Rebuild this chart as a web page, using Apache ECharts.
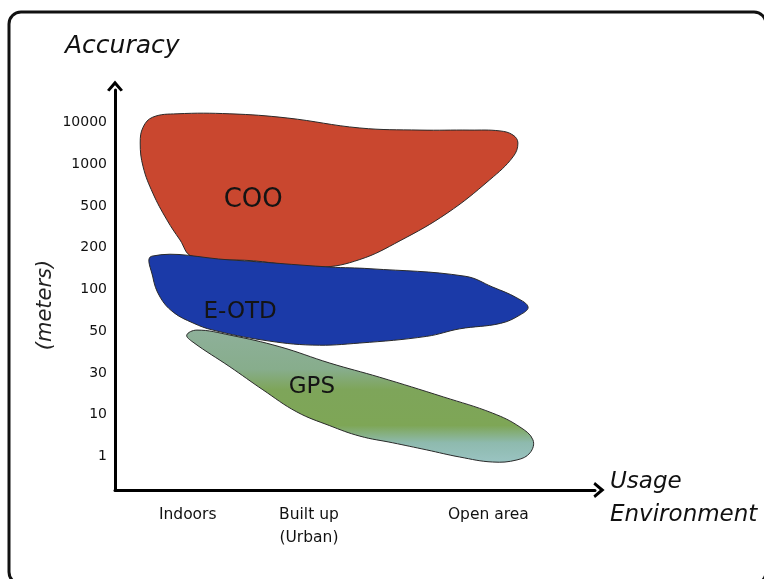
<!DOCTYPE html>
<html>
<head>
<meta charset="utf-8">
<script src="https://cdn.jsdelivr.net/npm/echarts@6/dist/echarts.min.js"></script>
<style>
html,body{margin:0;padding:0;background:#fff;}
#chart{width:764px;height:579px;}
</style>
</head>
<body>
<div id="chart"></div>
<script>
// Accuracy levels (ordinal y scale): index 0..8
const yTickLabels = ['1', '10', '30', '50', '100', '200', '500', '1000', '10000'];
const yTickIndex = [0, 1, 2, 3, 4, 5, 6, 7, 8];
// Usage environments along x
const envLabels = ['Indoors', 'Built up\n(Urban)', 'Open area'];
const envValues = [15, 40, 77];

// Region outlines: [environment, accuracy level]
const cooOutline = [
  [7.8, 8.13], [12.8, 8.21], [23.7, 8.21], [35.5, 8.11], [50.5, 7.87], [62.9, 7.82],
  [73.2, 7.82], [79.4, 7.80], [82.1, 7.70], [83.1, 7.51], [82.1, 7.18], [77.3, 6.63],
  [68.5, 5.83], [58.8, 5.17], [50.5, 4.72], [42.3, 4.54], [28.5, 4.69],
  [15.9, 4.80], [13.4, 5.19], [10.7, 5.67], [7.8, 6.31], [5.8, 6.94], [5.2, 7.51],
  [5.8, 7.89]
];
const eotdOutline = [
  [7.6, 4.80], [23.7, 4.71], [44.3, 4.54], [52.6, 4.50], [72.2, 4.32], [77.9, 4.06],
  [82.9, 3.80], [85.2, 3.58], [83.5, 3.39], [79.5, 3.19], [71.1, 3.06], [64.3, 2.88],
  [50.5, 2.72], [40.8, 2.67], [30.5, 2.79], [20.2, 3.03], [16.1, 3.20], [12.0, 3.46],
  [9.3, 3.82], [7.8, 4.30]
];
const gpsOutline = [
  [14.8, 2.91], [16.9, 3.03], [23.7, 2.91], [34.0, 2.63], [44.3, 2.24], [54.6, 1.90],
  [67.7, 1.43], [77.9, 1.04], [83.5, 0.71], [86.2, 0.40], [85.6, 0.09],
  [82.9, -0.08], [77.9, -0.13], [71.1, -0.01], [64.3, 0.16], [57.3, 0.33], [50.5, 0.49],
  [44.3, 0.74], [37.5, 1.07], [30.5, 1.60], [23.7, 2.15], [16.1, 2.74]
];
const regionNames = ['COO', 'E-OTD', 'GPS'];
const regionLabelAt = [[28.5, 6.15], [25.8, 3.46], [40.6, 1.67]];

const chart = echarts.init(document.getElementById('chart'), null, {renderer: 'canvas'});

function blobSeries(name, outline, labelAt, fill, fontSize, z) {
  return {
    type: 'custom',
    name: name,
    z: z,
    data: [[labelAt[0], labelAt[1]]],
    renderItem: function (params, api) {
      const pts = outline.map(p => api.coord(p));
      const lp = api.coord([api.value(0), api.value(1)]);
      return {
        type: 'group',
        children: [
          {
            type: 'polygon',
            shape: {points: pts, smooth: 0.4},
            style: {fill: fill, stroke: '#2a2a2a', lineWidth: 1}
          },
          {
            type: 'text',
            x: lp[0], y: lp[1],
            style: {
              text: name, fill: '#141414', fontSize: fontSize,
              fontFamily: 'DejaVu Sans', align: 'center', verticalAlign: 'middle'
            }
          }
        ]
      };
    }
  };
}

const arrowPath = 'path://M0,12 L10,0 L20,12 L17,14 L10,6 L3,14 Z';

const option = {
  backgroundColor: '#fff',
  animation: false,
  grid: {left: 115, right: 169, top: 90, bottom: 89},
  xAxis: {
    type: 'value', min: 0, max: 99,
    splitLine: {show: false},
    axisTick: {show: false},
    axisLine: {
      show: true, onZero: false,
      lineStyle: {color: '#000', width: 3},
      symbol: ['none', arrowPath], symbolSize: [16, 12], symbolOffset: [0, 4]
    },
    axisLabel: {
      customValues: envValues,
      formatter: function (v) { return envLabels[envValues.indexOf(v)]; },
      fontFamily: 'DejaVu Sans', fontSize: 15.5, color: '#111',
      lineHeight: 23, margin: 13
    }
  },
  yAxis: {
    type: 'value', min: -0.8, max: 8.78,
    splitLine: {show: false},
    axisTick: {show: false},
    axisLine: {
      show: true, onZero: false,
      lineStyle: {color: '#000', width: 3},
      symbol: ['none', arrowPath], symbolSize: [16, 12], symbolOffset: [0, 4]
    },
    axisLabel: {
      customValues: yTickIndex,
      formatter: function (v) { return yTickLabels[yTickIndex.indexOf(v)]; },
      fontFamily: 'DejaVu Sans', fontSize: 14, color: '#111', margin: 8
    }
  },
  graphic: [
    {type: 'rect', shape: {x: 9, y: 12, width: 757, height: 572, r: 12},
     style: {fill: 'none', stroke: '#111', lineWidth: 3}, z: 0},
    {type: 'text', x: 65, y: 46,
     style: {text: 'Accuracy', fontFamily: 'DejaVu Sans', fontStyle: 'italic', fontSize: 25,
             fill: '#111', verticalAlign: 'middle'}},
    {type: 'text', x: 46, y: 305, rotation: Math.PI / 2,
     style: {text: '(meters)', fontFamily: 'DejaVu Sans', fontStyle: 'italic', fontSize: 21,
             fill: '#222', align: 'center', verticalAlign: 'middle'}},
    {type: 'text', x: 610, y: 482,
     style: {text: 'Usage', fontFamily: 'DejaVu Sans', fontStyle: 'italic', fontSize: 23,
             fill: '#111', verticalAlign: 'middle'}},
    {type: 'text', x: 610, y: 515,
     style: {text: 'Environment', fontFamily: 'DejaVu Sans', fontStyle: 'italic', fontSize: 23,
             fill: '#111', verticalAlign: 'middle'}}
  ],
  series: [
    blobSeries(regionNames[0], cooOutline, regionLabelAt[0], '#C9472F', 26, 2),
    blobSeries(regionNames[1], eotdOutline, regionLabelAt[1], '#1B3AA8', 23, 3),
    blobSeries(regionNames[2], gpsOutline, regionLabelAt[2], {
      type: 'linear', x: 0, y: 0, x2: 0, y2: 1,
      colorStops: [
        {offset: 0, color: '#8EB09A'},
        {offset: 0.3, color: '#87AD8C'},
        {offset: 0.45, color: '#7EA55A'},
        {offset: 0.72, color: '#7EA656'},
        {offset: 0.85, color: '#8EBAAE'},
        {offset: 1, color: '#9AC4C2'}
      ]
    }, 23, 4)
  ]
};
chart.setOption(option);
</script>
</body>
</html>
